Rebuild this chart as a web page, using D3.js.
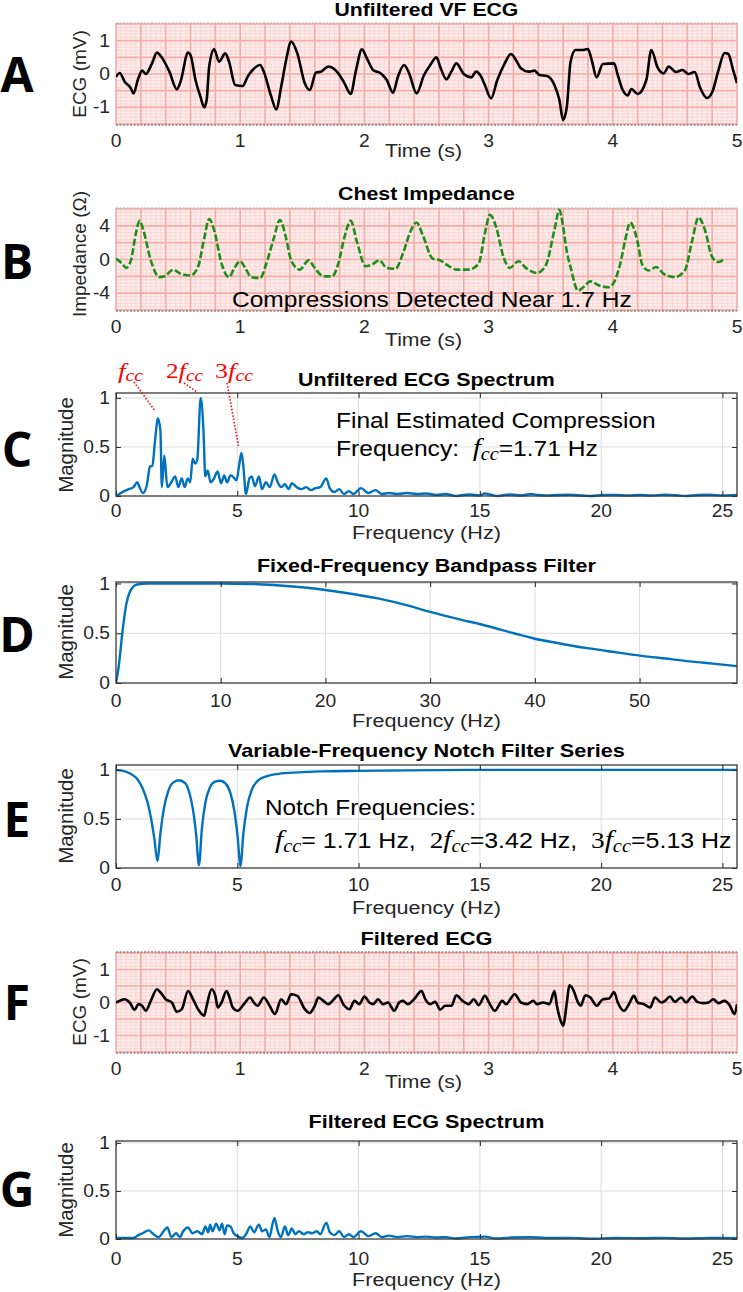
<!DOCTYPE html>
<html><head><meta charset="utf-8">
<script src="https://cdn.jsdelivr.net/npm/d3@7"></script>
<style>
body{margin:0;background:#fff}
svg{display:block}
text{font-family:"Liberation Sans",Arial,Helvetica,sans-serif}
</style>
</head><body>
<svg id="c" width="743" height="1292"></svg>
<script>
// ---------------- DATA ----------------
// A: Unfiltered VF ECG  [time s, mV]
const ecgUnfiltered = [[0,-0.08],[0.03,0.03],[0.07,-0.23],[0.12,-0.43],[0.14,-0.58],[0.18,-0.13],[0.21,0.10],[0.24,0.0],[0.29,0.32],[0.33,0.64],[0.36,0.54],[0.43,0.07],[0.49,-0.46],[0.52,-0.23],[0.58,0.64],[0.60,0.57],[0.64,-0.18],[0.68,-0.68],[0.71,-1.0],[0.73,-0.78],[0.75,0.22],[0.79,0.74],[0.83,0.37],[0.88,0.62],[0.91,0.37],[0.96,-0.33],[1.02,-0.36],[1.06,-0.08],[1.10,0.12],[1.16,0.27],[1.19,0.07],[1.25,-0.68],[1.29,-1.06],[1.33,-0.38],[1.37,0.42],[1.41,0.97],[1.46,0.62],[1.52,-0.28],[1.56,-0.48],[1.61,0.04],[1.65,0.07],[1.71,0.22],[1.75,0.17],[1.79,0.02],[1.84,-0.28],[1.89,-0.60],[1.93,0.07],[1.98,0.74],[2.02,0.47],[2.07,0.12],[2.13,0.02],[2.18,-0.18],[2.23,-0.56],[2.27,-0.08],[2.32,0.27],[2.36,0.02],[2.42,-0.58],[2.48,-0.03],[2.53,0.27],[2.58,0.50],[2.61,0.22],[2.66,-0.16],[2.70,0.07],[2.74,0.32],[2.80,0.0],[2.86,-0.10],[2.90,0.07],[2.94,-0.08],[2.97,-0.33],[3.02,-0.73],[3.07,-0.18],[3.13,0.32],[3.18,0.60],[3.22,0.42],[3.26,0.17],[3.32,0.07],[3.37,0.10],[3.41,-0.03],[3.47,-0.06],[3.53,-0.33],[3.57,-0.78],[3.60,-1.38],[3.63,-0.98],[3.66,0.37],[3.70,0.72],[3.76,0.72],[3.80,0.75],[3.83,0.42],[3.87,-0.10],[3.92,0.30],[4.01,0.32],[4.04,-0.03],[4.08,-0.48],[4.12,-0.64],[4.15,-0.45],[4.20,-0.60],[4.27,-0.18],[4.31,0.72],[4.36,0.20],[4.41,0.02],[4.45,0.22],[4.51,0.06],[4.56,0.12],[4.61,0.0],[4.66,0.06],[4.70,-0.38],[4.76,-0.72],[4.80,-0.55],[4.85,0.10],[4.90,0.63],[4.93,0.60],[4.97,0.10],[5.0,-0.27]];

// B: Chest impedance [time s, ohm]
const impedance = [[0,0.1],[0.05,-0.5],[0.08,-1.0],[0.12,-0.1],[0.16,3.1],[0.19,4.6],[0.22,3.5],[0.28,-0.1],[0.35,-2.1],[0.39,-2.0],[0.46,-1.2],[0.52,-1.7],[0.60,-1.9],[0.66,-0.9],[0.71,2.5],[0.75,4.8],[0.79,3.5],[0.85,-0.5],[0.91,-2.1],[0.95,-1.1],[1.0,-0.2],[1.04,-1.0],[1.09,-2.1],[1.16,-2.2],[1.21,-0.5],[1.27,2.5],[1.32,4.7],[1.37,2.5],[1.41,-0.1],[1.48,-1.2],[1.55,-0.1],[1.60,-1.0],[1.67,-2.0],[1.74,-2.0],[1.79,-0.5],[1.84,2.7],[1.89,4.6],[1.94,2.1],[2.01,-0.8],[2.06,-0.6],[2.12,-0.1],[2.18,-1.0],[2.25,-1.1],[2.31,0.7],[2.37,3.3],[2.42,4.4],[2.47,2.9],[2.55,0.1],[2.61,-0.1],[2.67,-0.7],[2.74,-1.2],[2.84,-1.2],[2.92,-0.5],[2.97,3.1],[3.01,5.3],[3.06,3.9],[3.12,0.3],[3.17,-1.0],[3.24,-0.2],[3.30,-1.0],[3.39,-1.6],[3.46,-0.7],[3.53,3.5],[3.57,5.9],[3.60,3.9],[3.63,0.9],[3.66,-0.9],[3.72,-3.7],[3.77,-3.2],[3.82,-2.6],[3.89,-3.1],[3.97,-3.3],[4.01,-2.7],[4.06,-0.5],[4.10,2.3],[4.14,4.4],[4.19,2.7],[4.24,-0.7],[4.29,-1.3],[4.35,-0.9],[4.41,-1.7],[4.50,-2.1],[4.58,-1.3],[4.64,2.3],[4.69,5.0],[4.74,3.6],[4.80,0.3],[4.85,-0.3],[4.90,0.1]];

// C: Unfiltered ECG spectrum [Hz, magnitude]
const spectrumUnfiltered = [[0,0],[0.14,0.02],[0.33,0.05],[0.53,0.07],[0.72,0.09],[0.88,0.14],[0.97,0.09],[1.11,0.03],[1.27,0.11],[1.40,0.30],[1.50,0.31],[1.60,0.54],[1.73,0.79],[1.83,0.67],[1.89,0.09],[1.99,0.41],[2.12,0.09],[2.28,0.14],[2.44,0.20],[2.57,0.09],[2.71,0.18],[2.83,0.09],[2.96,0.18],[3.06,0.14],[3.16,0.38],[3.26,0.33],[3.35,0.37],[3.49,1.0],[3.61,0.64],[3.68,0.20],[3.78,0.26],[3.90,0.14],[4.04,0.18],[4.19,0.25],[4.33,0.13],[4.46,0.21],[4.58,0.14],[4.72,0.21],[4.81,0.20],[4.97,0.16],[5.07,0.30],[5.17,0.44],[5.24,0.33],[5.36,0.02],[5.50,0.18],[5.59,0.20],[5.73,0.10],[5.89,0.20],[6.02,0.07],[6.18,0.14],[6.34,0.09],[6.53,0.22],[6.67,0.14],[6.80,0.09],[6.96,0.12],[7.12,0.07],[7.25,0.13],[7.45,0.09],[7.64,0.07],[7.84,0.09],[8.03,0.06],[8.23,0.08],[8.42,0.09],[8.67,0.18],[8.81,0.08],[9.0,0.04],[9.2,0.07],[9.4,0.02],[9.6,0.05],[9.79,0.02],[10.1,0.08],[10.4,0.03],[10.7,0.06],[10.96,0.02],[11.25,0.03],[11.6,0.02],[12.0,0.03],[12.4,0.02],[12.8,0.025],[13.2,0.01],[13.6,0.02],[14.0,0.0],[14.3,0.01],[14.6,0.015],[15.0,0.005],[15.2,0.025],[15.5,0.01],[15.7,0.0],[16.0,0.01],[16.3,0.015],[16.7,0.005],[17.1,0.02],[17.4,0.01],[17.7,0.005],[18.2,0.01],[18.7,0.012],[19.2,0.005],[19.6,0.0],[20.1,0.01],[20.6,0.01],[21.1,0.005],[21.6,0.01],[22.1,0.005],[22.6,0.012],[23.1,0.008],[23.5,0.0],[24.0,0.01],[24.5,0.012],[25.0,0.005],[25.6,0.01]];

// D: Fixed-frequency bandpass filter response [Hz, magnitude]
const bandpass = [[0,0],[0.3,0.2],[0.6,0.5],[1.0,0.8],[1.5,0.95],[2.0,0.99],[3.0,1.0],[10,1.0],[13,0.995],[15,0.985],[18,0.96],[20,0.935],[22,0.905],[25,0.85],[28,0.775],[30,0.715],[33,0.635],[35,0.585],[38,0.5],[40,0.445],[42,0.405],[45,0.35],[48,0.305],[50,0.275],[53,0.24],[55,0.215],[57,0.195],[59.3,0.17]];

// E: Variable-frequency notch filter series [Hz, magnitude]
const notch = [[0,1.0],[0.3,0.99],[0.6,0.96],[0.9,0.9],[1.1,0.81],[1.3,0.67],[1.45,0.5],[1.58,0.3],[1.71,0.07],[1.83,0.35],[1.97,0.6],[2.15,0.78],[2.35,0.87],[2.6,0.895],[2.85,0.865],[3.02,0.77],[3.17,0.6],[3.3,0.35],[3.42,0.03],[3.54,0.4],[3.68,0.66],[3.87,0.82],[4.08,0.88],[4.3,0.89],[4.52,0.86],[4.72,0.76],[4.88,0.58],[5.01,0.33],[5.13,0.02],[5.25,0.35],[5.4,0.62],[5.6,0.8],[5.85,0.89],[6.2,0.935],[6.7,0.96],[7.5,0.975],[8.5,0.985],[10,0.99],[12,0.995],[15,1.0],[20,1.0],[25.6,1.0]];

// F: Filtered ECG [time s, mV]
const ecgFiltered = [[0,0],[0.03,0.05],[0.07,0.1],[0.11,0],[0.15,-0.22],[0.18,-0.05],[0.21,-0.1],[0.24,-0.25],[0.28,0.05],[0.33,0.4],[0.36,0.3],[0.40,0.1],[0.45,0],[0.49,-0.28],[0.53,-0.2],[0.58,0.35],[0.62,0.1],[0.66,-0.2],[0.71,-0.4],[0.73,-0.1],[0.77,0.4],[0.80,0.2],[0.82,-0.15],[0.85,0],[0.89,0.35],[0.91,0.2],[0.94,-0.15],[0.98,-0.25],[1.03,-0.05],[1.08,0.15],[1.11,0],[1.14,-0.1],[1.19,0.15],[1.23,-0.05],[1.28,-0.35],[1.33,0.1],[1.37,-0.05],[1.41,0.25],[1.46,0.2],[1.52,-0.2],[1.56,-0.32],[1.60,-0.1],[1.63,0.15],[1.67,0.05],[1.71,-0.05],[1.75,0.08],[1.79,0.22],[1.83,-0.05],[1.88,-0.2],[1.92,0.05],[1.96,-0.05],[2.0,0.18],[2.04,0],[2.07,-0.05],[2.11,0.1],[2.15,-0.05],[2.19,0],[2.24,-0.25],[2.28,0],[2.31,0.05],[2.35,-0.05],[2.40,0.1],[2.46,0.35],[2.49,0.1],[2.53,-0.05],[2.57,0.02],[2.61,-0.22],[2.65,-0.1],[2.70,-0.1],[2.74,0.22],[2.79,0.05],[2.84,-0.05],[2.88,0.1],[2.92,-0.08],[2.97,0.2],[3.01,-0.05],[3.05,-0.25],[3.11,0.05],[3.14,-0.05],[3.21,0.25],[3.26,0],[3.31,-0.05],[3.36,0.05],[3.39,-0.05],[3.44,0],[3.49,-0.05],[3.53,0.35],[3.55,-0.1],[3.58,-0.55],[3.60,-0.7],[3.63,0],[3.65,0.52],[3.68,0.4],[3.72,0],[3.74,-0.1],[3.78,0.22],[3.82,0.15],[3.87,-0.1],[3.92,0.1],[3.97,0.12],[4.01,0.32],[4.04,0],[4.09,-0.25],[4.13,-0.05],[4.17,0.2],[4.20,0],[4.25,-0.05],[4.30,-0.15],[4.34,0.15],[4.39,0],[4.42,0.05],[4.46,0.18],[4.50,0.02],[4.55,0.15],[4.59,0],[4.64,0.18],[4.68,0.02],[4.73,-0.02],[4.77,0],[4.81,0.1],[4.85,-0.02],[4.90,0.05],[4.94,-0.08],[4.98,-0.35],[5.0,-0.05]];

// G: Filtered ECG spectrum [Hz, magnitude]
const spectrumFiltered = [[0,0.01],[0.72,0.01],[0.92,0.04],[1.1,0.06],[1.35,0.09],[1.5,0.06],[1.75,0.02],[1.99,0.09],[2.12,0.12],[2.28,0.02],[2.48,0.06],[2.63,0.02],[2.77,0.08],[2.96,0.12],[3.16,0.06],[3.35,0.08],[3.55,0.05],[3.68,0.13],[3.80,0.07],[3.88,0.15],[3.98,0.08],[4.13,0.16],[4.27,0.09],[4.37,0.16],[4.48,0.05],[4.58,0.14],[4.72,0.13],[4.85,0.06],[5.0,0.03],[5.2,0.01],[5.36,0.05],[5.54,0.13],[5.69,0.07],[5.89,0.15],[6.02,0.08],[6.18,0.10],[6.32,0.02],[6.53,0.22],[6.67,0.08],[6.8,0.02],[6.96,0.13],[7.1,0.04],[7.25,0.11],[7.39,0.05],[7.54,0.08],[7.74,0.05],[7.9,0.07],[8.09,0.06],[8.28,0.08],[8.42,0.05],[8.67,0.17],[8.81,0.07],[9.0,0.04],[9.2,0.08],[9.4,0.02],[9.6,0.05],[9.79,0.02],[10.1,0.08],[10.4,0.03],[10.7,0.06],[10.96,0.02],[11.25,0.035],[11.6,0.02],[12.0,0.03],[12.4,0.02],[12.8,0.025],[13.2,0.015],[13.6,0.02],[14.0,0.005],[14.6,0.02],[15.2,0.025],[15.7,0.005],[16.3,0.015],[17.1,0.02],[17.7,0.01],[18.7,0.012],[19.6,0.003],[20.6,0.01],[21.6,0.008],[22.6,0.012],[23.5,0.005],[24.5,0.01],[25.6,0.008]];

// tick values
const timeTicks = [0,1,2,3,4,5];
const ecgYTicks = [-1,0,1];
const impYTicks = [-4,0,4];
const freqTicks = [0,5,10,15,20,25];
const bandTicks = [0,10,20,30,40,50];
const magTicks = [0,0.5,1];

// ---------------- DRAWING ----------------
const svg = d3.select('#c');
const X0 = 116, X1 = 737;
const TXT = '#262626';
const SERIF = '"Liberation Serif","DejaVu Serif",serif';
const TICK_FS = '17.5px';

function rich(parent, x, y, parts, o) {
  const t = parent.append('text').attr('x', 0).attr('y', 0)
    .style('font-size', o.size + 'px').style('font-weight', o.weight || 400)
    .style('white-space', 'pre').attr('fill', o.fill || '#000');
  let shift = 0;
  parts.forEach(p => {
    const s = typeof p === 'string' ? {t: p} : p;
    const ts = t.append('tspan').text(s.t);
    if (s.it) ts.style('font-family', SERIF).style('font-style', 'italic');
    if (s.serif) ts.style('font-family', SERIF);
    if (s.size) ts.style('font-size', s.size + 'px');
    const target = s.sub || 0;
    if (target !== shift) { ts.attr('dy', target - shift); shift = target; }
  });
  const w = t.node().getComputedTextLength();
  const sx = o.w ? o.w / w : (o.sx || 1);
  const width = w * sx;
  const x0 = o.anchor === 'middle' ? x - width / 2 : (o.anchor === 'end' ? x - width : x);
  t.attr('transform', `translate(${x0},${y}) scale(${sx},1)`);
  return t;
}

function panelLetter(letter, cy) {
  svg.append('text').attr('x', 17).attr('y', cy + 17).attr('text-anchor', 'middle')
    .style('font-family', '"Open Sans","DejaVu Sans",sans-serif').style('font-weight', 700)
    .style('font-size', '48px').attr('fill', '#000').text(letter);
}

function yLabel(text, xb, cy, fs) {
  svg.append('text').attr('transform', `translate(${xb},${cy}) rotate(-90)`)
    .attr('text-anchor', 'middle').style('font-size', (fs || 19) + 'px').attr('fill', TXT).text(text);
}

let clipId = 0;
function addClip(top, bottom) {
  const id = 'clip' + (clipId++);
  svg.append('clipPath').attr('id', id).append('rect')
    .attr('x', X0).attr('y', top - 2).attr('width', X1 - X0).attr('height', bottom - top + 4);
  return id;
}

function ecgPanel(cfg) {
  const x = d3.scaleLinear().domain([0, 5]).range([X0, X1]);
  const y = d3.scaleLinear().domain(cfg.ydom).range([cfg.bottom, cfg.top]);
  const g = svg.append('g');
  g.append('rect').attr('x', X0).attr('y', cfg.top).attr('width', X1 - X0).attr('height', cfg.bottom - cfg.top)
    .attr('fill', '#fdeceb');
  const nMinX = 125, nMinY = Math.round((cfg.gmax - cfg.gmin) / cfg.minor);
  const minX = d3.range(nMinX + 1).map(i => i * 0.04);
  const minY = d3.range(nMinY + 1).map(i => cfg.gmin + i * cfg.minor);
  g.selectAll('.mx').data(minX).join('line').attr('x1', d => x(d)).attr('x2', d => x(d))
    .attr('y1', cfg.top).attr('y2', cfg.bottom).attr('stroke', '#f8d0cc').attr('stroke-width', 0.7);
  g.selectAll('.my').data(minY).join('line').attr('y1', d => y(d)).attr('y2', d => y(d))
    .attr('x1', X0).attr('x2', X1).attr('stroke', '#f8d0cc').attr('stroke-width', 0.7);
  const majX = d3.range(26).map(i => i * 0.2);
  const nMajY = Math.round((cfg.gmax - cfg.gmin) / cfg.major);
  const majY = d3.range(nMajY + 1).map(i => cfg.gmin + i * cfg.major);
  g.selectAll('.Mx').data(majX).join('line').attr('x1', d => x(d)).attr('x2', d => x(d))
    .attr('y1', cfg.top).attr('y2', cfg.bottom).attr('stroke', '#f5aca6').attr('stroke-width', 1.6);
  g.selectAll('.My').data(majY).join('line').attr('y1', d => y(d)).attr('y2', d => y(d))
    .attr('x1', X0).attr('x2', X1).attr('stroke', '#f5aca6').attr('stroke-width', 1.6);
  g.append('line').attr('x1', X0).attr('x2', X1).attr('y1', cfg.top).attr('y2', cfg.top)
    .attr('stroke', cfg.topColor || '#555').attr('stroke-width', 1.2).attr('stroke-dasharray', '2,1.5');
  g.append('line').attr('x1', X0).attr('x2', X1).attr('y1', cfg.bottom).attr('y2', cfg.bottom)
    .attr('stroke', '#555').attr('stroke-width', 1.2).attr('stroke-dasharray', '2,1.5');
  const cid = addClip(cfg.top, cfg.bottom);
  const line = d3.line().x(d => x(d[0])).y(d => y(d[1])).curve(d3.curveMonotoneX);
  const p = g.append('path').attr('clip-path', `url(#${cid})`).datum(cfg.data).attr('d', line)
    .attr('fill', 'none').attr('stroke', cfg.color).attr('stroke-width', cfg.width || 2.6)
    .attr('stroke-linejoin', 'round');
  if (cfg.dash) p.attr('stroke-dasharray', cfg.dash);
  g.selectAll('.xt').data(timeTicks).join('text').attr('transform', d => `translate(${x(d)},${cfg.bottom + cfg.tickGap}) scale(1.1,1)`)
    .attr('dy', '0.71em').attr('text-anchor', 'middle').style('font-size', TICK_FS).attr('fill', TXT).text(d => String(d));
  g.selectAll('.yt').data(cfg.yticks).join('text').attr('transform', d => `translate(${X0 - 6},${y(d)}) scale(1.1,1)`)
    .attr('dy', '0.35em').attr('text-anchor', 'end').style('font-size', TICK_FS).attr('fill', TXT).text(d => String(d));
  rich(g, 423.5, cfg.xlabBase, ['Time (s)'], {size: 19, w: 77, anchor: 'middle', fill: TXT});
  rich(g, (X0 + X1) / 2, cfg.titleBase, [cfg.title], {size: 17.5, weight: 700, w: cfg.titleW, anchor: 'middle'});
  return {x, y, g};
}

function specPanel(cfg) {
  const x = d3.scaleLinear().domain(cfg.xdom).range([X0, X1]);
  const y = d3.scaleLinear().domain(cfg.ydom).range([cfg.bottom, cfg.top]);
  const g = svg.append('g');
  g.append('rect').attr('x', X0).attr('y', cfg.top).attr('width', X1 - X0).attr('height', cfg.bottom - cfg.top).attr('fill', '#fff');
  g.selectAll('.gx').data(cfg.xticks.filter(d => d > 0)).join('line').attr('x1', d => x(d)).attr('x2', d => x(d))
    .attr('y1', cfg.top).attr('y2', cfg.bottom).attr('stroke', '#dcdcdc').attr('stroke-width', 1);
  g.selectAll('.gy').data(magTicks.filter(d => d > 0)).join('line').attr('y1', d => y(d)).attr('y2', d => y(d))
    .attr('x1', X0).attr('x2', X1).attr('stroke', '#dcdcdc').attr('stroke-width', 1);
  const cid = addClip(cfg.top, cfg.bottom);
  const line = d3.line().x(d => x(d[0])).y(d => y(d[1])).curve(d3.curveMonotoneX);
  g.append('path').attr('clip-path', `url(#${cid})`).datum(cfg.data).attr('d', line)
    .attr('fill', 'none').attr('stroke', '#0072BD').attr('stroke-width', 2.4).attr('stroke-linejoin', 'round');
  const ax = (sel, axis) => { sel.call(axis); sel.select('.domain').remove(); sel.selectAll('line').attr('stroke', TXT); };
  ax(g.append('g').attr('transform', `translate(0,${cfg.bottom})`), d3.axisBottom(x).tickValues(cfg.xticks).tickSize(-5).tickFormat(''));
  ax(g.append('g').attr('transform', `translate(0,${cfg.top})`), d3.axisTop(x).tickValues(cfg.xticks).tickSize(-5).tickFormat(''));
  ax(g.append('g').attr('transform', `translate(${X0},0)`), d3.axisLeft(y).tickValues(magTicks).tickSize(-5).tickFormat(''));
  ax(g.append('g').attr('transform', `translate(${X1},0)`), d3.axisRight(y).tickValues(magTicks).tickSize(-5).tickFormat(''));
  g.append('rect').attr('x', X0).attr('y', cfg.top).attr('width', X1 - X0).attr('height', cfg.bottom - cfg.top)
    .attr('fill', 'none').attr('stroke', '#3a3a3a').attr('stroke-width', 1.3);
  g.selectAll('.xt').data(cfg.xticks).join('text').attr('transform', d => `translate(${x(d)},${cfg.bottom + cfg.tickGap}) scale(1.1,1)`)
    .attr('dy', '0.71em').attr('text-anchor', 'middle').style('font-size', TICK_FS).attr('fill', TXT).text(d => String(d));
  g.selectAll('.yt').data(magTicks).join('text').attr('transform', d => `translate(${X0 - 6},${y(d)}) scale(1.1,1)`)
    .attr('dy', '0.35em').attr('text-anchor', 'end').style('font-size', TICK_FS).attr('fill', TXT).text(d => String(d));
  rich(g, 426.5, cfg.xlabBase, ['Frequency (Hz)'], {size: 19, w: 149, anchor: 'middle', fill: TXT});
  rich(g, (X0 + X1) / 2, cfg.titleBase, [cfg.title], {size: 17.5, weight: 700, w: cfg.titleW, anchor: 'middle'});
  return {x, y, g};
}

// ----- Panel A -----
ecgPanel({data: ecgUnfiltered, top: 23, bottom: 125, ydom: [-1.53, 1.53], gmin: -1.5, gmax: 1.5, minor: 0.1, major: 0.5,
  yticks: ecgYTicks, color: '#000', title: 'Unfiltered VF ECG', titleW: 184, titleBase: 16, tickGap: 10, xlabBase: 157, topColor: '#9fb0bb'});
yLabel('ECG (mV)', 86, 74);
panelLetter('A', 75);

// ----- Panel B -----
const pB = ecgPanel({data: impedance, top: 208, bottom: 311, ydom: [-6.12, 6.12], gmin: -6, gmax: 6, minor: 0.4, major: 2,
  yticks: impYTicks, color: '#1a901a', dash: '7,2.5', width: 2.6, title: 'Chest Impedance', titleW: 177, titleBase: 200, tickGap: 10, xlabBase: 346, topColor: '#9fb0bb'});
rich(pB.g, 232, 307, ['Compressions Detected Near 1.7 Hz'], {size: 22, w: 400, fill: '#000'});
yLabel('Impedance (Ω)', 86, 254);
panelLetter('B', 262);

// ----- Panel C -----
const pC = specPanel({data: spectrumUnfiltered, top: 393, bottom: 496, xdom: [0, 25.6], ydom: [0, 1.05], xticks: freqTicks,
  title: 'Unfiltered ECG Spectrum', titleW: 257, titleBase: 386, tickGap: 9, xlabBase: 539});
yLabel('Magnitude', 73, 445, 20.5);
panelLetter('C', 450);
const harm = [{f: 1.71, m: 0.8, lx: 118, w: 25, pre: '', x1: 134, y1: 382}, {f: 3.42, m: 1.0, lx: 166, w: 37, pre: '2', x1: 184, y1: 383}, {f: 5.13, m: 0.45, lx: 215, w: 38, pre: '3', x1: 227, y1: 383}];
harm.forEach(h => {
  const parts = [];
  if (h.pre) parts.push({t: h.pre, serif: 1, size: 21});
  parts.push({t: 'f', it: 1, size: 22}, {t: 'cc', it: 1, size: 16, sub: 3});
  rich(svg, h.lx, 378, parts, {size: 20, fill: '#ff0000', w: h.w});
  svg.append('line').attr('x1', h.x1).attr('y1', h.y1).attr('x2', pC.x(h.f) - 2).attr('y2', pC.y(h.m) - 6)
    .attr('stroke', '#ff0000').attr('stroke-width', 1.6).attr('stroke-dasharray', '1.5,1.8');
});
rich(pC.g, 336, 428, ['Final Estimated Compression'], {size: 22, w: 320});
rich(pC.g, 336, 456, ['Frequency:  ', {t: 'f', it: 1, size: 26}, {t: 'cc', it: 1, size: 18, sub: 4}, {t: '=1.71 Hz', sub: 0}], {size: 22, w: 262});

// ----- Panel D -----
specPanel({data: bandpass, top: 582, bottom: 683, xdom: [0, 59.3], ydom: [0, 1.015], xticks: bandTicks,
  title: 'Fixed-Frequency Bandpass Filter', titleW: 339, titleBase: 572, tickGap: 12, xlabBase: 727});
yLabel('Magnitude', 73, 632, 20.5);
panelLetter('D', 635);

// ----- Panel E -----
const pE = specPanel({data: notch, top: 765, bottom: 868, xdom: [0, 25.6], ydom: [0, 1.05], xticks: freqTicks,
  title: 'Variable-Frequency Notch Filter Series', titleW: 397, titleBase: 757, tickGap: 11, xlabBase: 914});
yLabel('Magnitude', 73, 816, 20.5);
panelLetter('E', 820);
rich(pE.g, 265, 815, ['Notch Frequencies:'], {size: 22, w: 211});
rich(pE.g, 275, 848, [
  {t: 'f', it: 1, size: 26}, {t: 'cc', it: 1, size: 18, sub: 4}, {t: '= 1.71 Hz,  ', sub: 0},
  {t: '2', serif: 1, size: 24}, {t: 'f', it: 1, size: 26}, {t: 'cc', it: 1, size: 18, sub: 4}, {t: '=3.42 Hz,  ', sub: 0},
  {t: '3', serif: 1, size: 24}, {t: 'f', it: 1, size: 26}, {t: 'cc', it: 1, size: 18, sub: 4}, {t: '=5.13 Hz', sub: 0}
], {size: 22, w: 457});

// ----- Panel F -----
ecgPanel({data: ecgFiltered, top: 952, bottom: 1053, ydom: [-1.53, 1.53], gmin: -1.5, gmax: 1.5, minor: 0.1, major: 0.5,
  yticks: ecgYTicks, color: '#000', title: 'Filtered ECG', titleW: 132, titleBase: 945, tickGap: 10, xlabBase: 1088});
yLabel('ECG (mV)', 86, 1002);
panelLetter('F', 1003);

// ----- Panel G -----
specPanel({data: spectrumFiltered, top: 1141, bottom: 1239, xdom: [0, 25.6], ydom: [0, 1.02], xticks: freqTicks,
  title: 'Filtered ECG Spectrum', titleW: 236, titleBase: 1128, tickGap: 14, xlabBase: 1286});
yLabel('Magnitude', 73, 1190, 20.5);
panelLetter('G', 1190);
</script>
</body></html>
